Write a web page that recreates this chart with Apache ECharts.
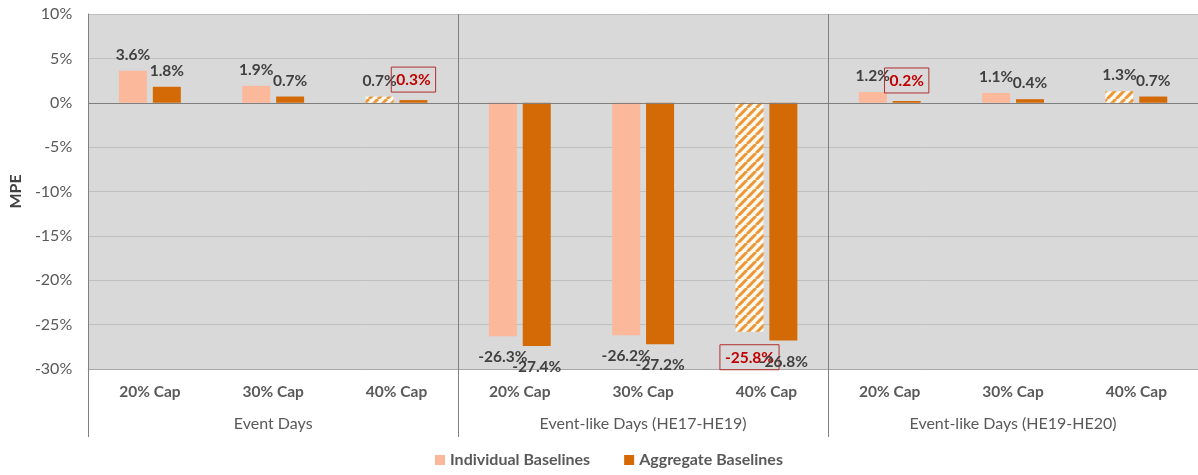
<!DOCTYPE html>
<html>
<head>
<meta charset="utf-8">
<script src="https://cdn.jsdelivr.net/npm/echarts@6/dist/echarts.min.js"></script>
<style>
  html, body { margin: 0; padding: 0; background: #fff; }
  #container-MPEChart { width: 1198px; height: 475px; }
</style>
</head>
<body>
<div id="container-MPEChart"></div>
<script>
const categories = ['20% Cap', '30% Cap', '40% Cap', '20% Cap', '30% Cap', '40% Cap', '20% Cap', '30% Cap', '40% Cap'];
const groups = ['Event Days', 'Event-like Days (HE17-HE19)', 'Event-like Days (HE19-HE20)'];
const individualBaselines = [3.6, 1.9, 0.7, -26.3, -26.2, -25.8, 1.2, 1.1, 1.3];
const aggregateBaselines = [1.8, 0.7, 0.3, -27.4, -27.2, -26.8, 0.2, 0.4, 0.7];
// which bars are hatched / which labels get the red box
const hatchedIndividual = [2, 5, 8];
const boxedIndividual = [5];
const boxedAggregate = [2, 6];

const fontFamily = 'Lato, "Open Sans", sans-serif';

// diagonal stripes for the hatched bars
function makeStripes() {
  const c = document.createElement('canvas');
  c.width = 9;
  c.height = 9;
  const ctx = c.getContext('2d');
  ctx.fillStyle = '#fff8ec';
  ctx.fillRect(0, 0, 9, 9);
  ctx.strokeStyle = '#ec963a';
  ctx.lineWidth = 3;
  ctx.beginPath();
  for (let k = -9; k <= 18; k += 9) {
    ctx.moveTo(k, 9);
    ctx.lineTo(k + 9, 0);
  }
  ctx.stroke();
  return c;
}
const stripes = makeStripes();

const boxLabel = {
  color: '#c00000',
  borderColor: '#b03030',
  borderWidth: 1,
  padding: [5, 5, 4, 5]
};

function buildData(values, hatched, boxed) {
  return values.map((v, i) => {
    const item = {
      value: v,
      label: { position: v < 0 ? 'bottom' : 'top', distance: v < 0 ? 13 : 8 }
    };
    if (hatched.indexOf(i) >= 0) {
      item.itemStyle = { color: { image: stripes, repeat: 'repeat' } };
    }
    if (boxed.indexOf(i) >= 0) {
      Object.assign(item.label, boxLabel);
    }
    return item;
  });
}

const chart = echarts.init(document.getElementById('container-MPEChart'), null, { renderer: 'canvas' });

const valueLabel = {
  show: true,
  formatter: p => p.value.toFixed(1) + '%',
  color: '#404040',
  fontFamily: fontFamily,
  fontSize: 15.5,
  fontWeight: 'bold'
};

const option = {
  backgroundColor: '#ffffff',
  animation: false,
  textStyle: { fontFamily: fontFamily },
  grid: {
    left: 88,
    right: -6,
    top: 14,
    bottom: 106,
    show: true,
    backgroundColor: '#d9d9d9',
    borderWidth: 0
  },
  legend: {
    bottom: 2,
    left: 430,
    itemWidth: 10,
    itemHeight: 10,
    itemGap: 34,
    icon: 'rect',
    textStyle: { color: '#595959', fontSize: 16, fontWeight: 'bold', fontFamily: fontFamily },
    data: ['Individual Baselines', 'Aggregate Baselines']
  },
  xAxis: [
    {
      type: 'category',
      data: categories,
      position: 'bottom',
      axisLine: { onZero: false, lineStyle: { color: '#a6a6a6' } },
      axisTick: { show: false },
      axisLabel: { margin: 15, color: '#595959', fontSize: 15.5, fontWeight: 'bold', fontFamily: fontFamily }
    },
    {
      type: 'category',
      data: groups,
      position: 'bottom',
      axisLine: { show: false, onZero: false },
      axisTick: { show: true, length: 68, lineStyle: { color: '#808080' } },
      axisLabel: { margin: 47, color: '#595959', fontSize: 16, fontFamily: fontFamily },
      splitLine: { show: true, lineStyle: { color: '#808080' } }
    }
  ],
  yAxis: {
    type: 'value',
    min: -30,
    max: 10,
    interval: 5,
    name: 'MPE',
    nameLocation: 'middle',
    nameGap: 64,
    nameRotate: 90,
    nameTextStyle: { color: '#404040', fontSize: 16, fontWeight: 'bold', fontFamily: fontFamily },
    axisLine: { show: true, lineStyle: { color: '#808080' } },
    axisTick: { show: false },
    axisLabel: { formatter: '{value}%', color: '#595959', fontSize: 16, margin: 16, fontFamily: fontFamily },
    splitLine: { lineStyle: { color: '#bfbfbf' } }
  },
  series: [
    {
      name: 'Individual Baselines',
      type: 'bar',
      barWidth: 28,
      barGap: '21%',
      itemStyle: { color: '#fbb89b' },
      label: valueLabel,
      data: buildData(individualBaselines, hatchedIndividual, boxedIndividual),
      markLine: {
        silent: true,
        symbol: 'none',
        label: { show: false },
        lineStyle: { color: '#7f7f7f', type: 'solid', width: 1 },
        data: [{ yAxis: 0 }]
      },
      z: 3
    },
    {
      name: 'Aggregate Baselines',
      type: 'bar',
      barWidth: 28,
      itemStyle: { color: '#d46a05' },
      label: valueLabel,
      data: buildData(aggregateBaselines, [], boxedAggregate),
      z: 3
    }
  ]
};

chart.setOption(option);
</script>
</body>
</html>
